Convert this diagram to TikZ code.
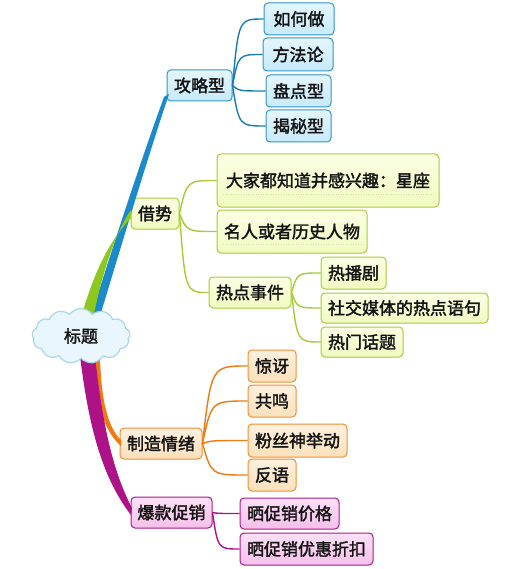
\documentclass[tikz,border=0pt]{standalone}
\usepackage{fontspec}
\newfontfamily\cjk[FakeBold=2]{Noto Sans CJK SC}
\usetikzlibrary{calc,shapes.symbols}
\definecolor{bluF}{HTML}{C6EAFA}\definecolor{bluT}{HTML}{E4F6FE}\definecolor{bluB}{HTML}{2F94CF}\definecolor{bluL}{HTML}{1A8ACB}
\definecolor{grnF}{HTML}{F1FAC0}\definecolor{grnT}{HTML}{FBFFE4}\definecolor{grnB}{HTML}{A5CC3A}\definecolor{grnL}{HTML}{8DC81E}
\definecolor{orgF}{HTML}{FCE0BC}\definecolor{orgT}{HTML}{FEF1DE}\definecolor{orgB}{HTML}{EE8F35}\definecolor{orgL}{HTML}{F07A10}
\definecolor{magF}{HTML}{F6BFEA}\definecolor{magT}{HTML}{FCE0F6}\definecolor{magB}{HTML}{A81C86}\definecolor{magL}{HTML}{AE1289}
\definecolor{cldF}{HTML}{EAF6FD}\definecolor{cldB}{HTML}{A9D5EF}
\definecolor{txt}{HTML}{141414}
\tikzset{
  box/.style={draw, rounded corners=4pt, line width=1pt, inner sep=0pt, text=txt,
    font=\cjk\fontsize{17}{19}\selectfont},
  bl/.style={box, draw=bluB, top color=bluT, bottom color=bluF},
  gr/.style={box, draw=grnB, top color=grnT, bottom color=grnF},
  og/.style={box, draw=orgB, top color=orgT, bottom color=orgF},
  mg/.style={box, draw=magB, top color=magT, bottom color=magF},
  cbl/.style={draw=bluL!90!black, line width=1.4pt},
  cgr/.style={draw=grnB, line width=1.4pt},
  cog/.style={draw=orgL, line width=1.4pt},
  cmg/.style={draw=magL, line width=1.4pt},
}
\newcommand\bx[7]{\node[#6, minimum width={#4pt-#2pt}, minimum height={#5pt-#3pt}] (#1) at ({(#2+#4)/2},{(#3+#5)/2}) {#7};}
\newcommand\cn[3]{\draw[#1] (#2.east) .. controls ($(#2.east |- #3.west)!0.2!(#3.west)$) .. (#3.west);}
\begin{document}
\begin{tikzpicture}[x=1pt,y=-1pt]
\useasboundingbox (0,0) rectangle (522,569);
% main nodes
\bx{gl}{167}{70}{232}{101}{bl}{攻略型}
\bx{js}{131}{198}{179}{229}{gr}{借势}
\bx{zz}{120}{428}{202}{459}{og}{制造情绪}
\bx{bk}{131}{497}{212}{528}{mg}{爆款促销}
% main branches
\fill[bluL] (91,316) .. controls (115,240) and (141,160) .. (164,97) -- (169,94) .. controls (147,160) and (123,240) .. (100,316) -- cycle;
\fill[grnL] (82,314) .. controls (95,270) and (110,240) .. (131,218) -- (131,210) .. controls (120,225) and (105,260) .. (94,314) -- cycle;
\fill[orgL] (92,356) .. controls (95,405) and (105,432) .. (121,446) -- (121,440) .. controls (108,428) and (101,400) .. (100,356) -- cycle;
\fill[magL] (80,356) .. controls (88,420) and (100,475) .. (131,515) -- (132,508) .. controls (112,470) and (102,420) .. (95,356) -- cycle;
% root
\node[cloud, cloud puffs=13, cloud puff arc=110, aspect=1.9, draw=cldB, fill=cldF, line width=1.2pt,
  minimum width=98pt, minimum height=55pt, inner sep=0pt, text=txt, font=\cjk\fontsize{17}{19}\selectfont] (root) at (81,336) {标题};
% blue children
\bx{a1}{264}{3}{334}{35}{bl}{如何做}
\bx{a2}{263}{38}{333}{71}{bl}{方法论}
\bx{a3}{266}{75}{331}{107}{bl}{盘点型}
\bx{a4}{266}{110}{331}{142}{bl}{揭秘型}
% green children
\bx{b1}{217}{154}{439}{207}{gr}{大家都知道并感兴趣：星座}
\bx{b2}{217}{210}{367}{253}{gr}{名人或者历史人物}
\bx{b3}{209}{277}{291}{308}{gr}{热点事件}
\bx{c1}{321}{257}{386}{289}{gr}{热播剧}
\bx{c2}{321}{293}{488}{323}{gr}{社交媒体的热点语句}
\bx{c3}{321}{327}{403}{357}{gr}{热门话题}
\draw[grnB!45, line width=0.5pt, dotted] (223,194) -- (431,194);
\draw[grnB!45, line width=0.5pt, dotted] (223,244) -- (362,244);
% orange children
\bx{d1}{248}{350}{296}{382}{og}{惊讶}
\bx{d2}{248}{385}{296}{417}{og}{共鸣}
\bx{d3}{248}{424}{347}{457}{og}{粉丝神举动}
\bx{d4}{248}{459}{296}{491}{og}{反语}
% magenta children
\bx{e1}{240}{498}{339}{529}{mg}{晒促销价格}
\bx{e2}{240}{533}{373}{565}{mg}{晒促销优惠折扣}
% connectors
\cn{cbl}{gl}{a1}\cn{cbl}{gl}{a2}\cn{cbl}{gl}{a3}\cn{cbl}{gl}{a4}
\cn{cgr}{js}{b1}\cn{cgr}{js}{b2}\cn{cgr}{js}{b3}
\cn{cgr}{b3}{c1}\cn{cgr}{b3}{c2}\cn{cgr}{b3}{c3}
\cn{cog}{zz}{d1}\cn{cog}{zz}{d2}\cn{cog}{zz}{d3}\cn{cog}{zz}{d4}
\cn{cmg}{bk}{e1}\cn{cmg}{bk}{e2}
\end{tikzpicture}
\end{document}
